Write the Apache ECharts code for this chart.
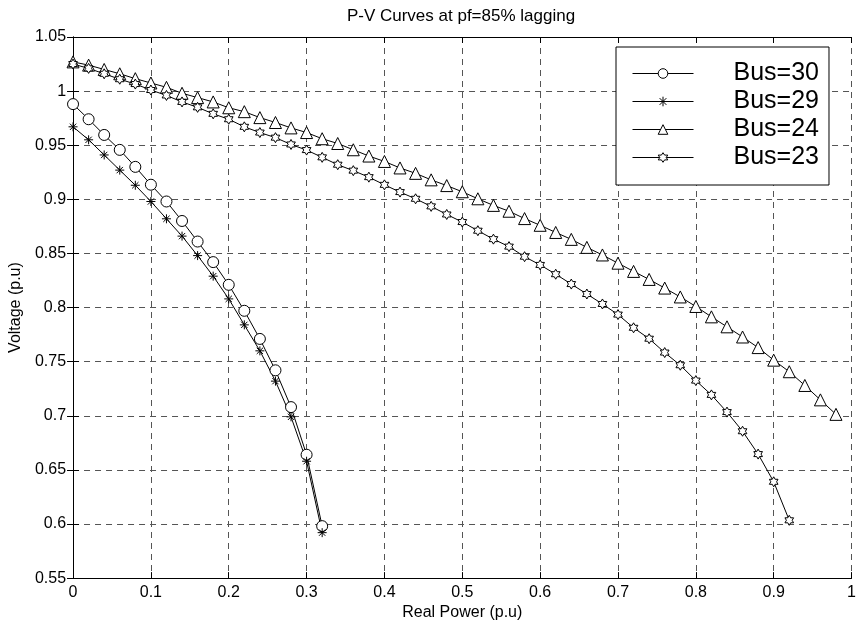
<!DOCTYPE html>
<html>
<head>
<meta charset="utf-8">
<script src="https://cdn.jsdelivr.net/npm/echarts@6/dist/echarts.min.js"></script>
<style>
  html, body { margin: 0; padding: 0; background: #fff; }
  #main { width: 859px; height: 626px; }
</style>
</head>
<body>
<div id="main"></div>
<script>
// real power (p.u) for each bus
var powerBus30 = [0, 0.02, 0.04, 0.06, 0.08, 0.10, 0.12, 0.14, 0.16, 0.18, 0.20, 0.22, 0.24, 0.26, 0.28, 0.30, 0.32];
var powerBus29 = [0, 0.02, 0.04, 0.06, 0.08, 0.10, 0.12, 0.14, 0.16, 0.18, 0.20, 0.22, 0.24, 0.26, 0.28, 0.30, 0.32];
var powerBus24 = [0, 0.02, 0.04, 0.06, 0.08, 0.10, 0.12, 0.14, 0.16, 0.18, 0.20, 0.22, 0.24, 0.26, 0.28, 0.30,
  0.32, 0.34, 0.36, 0.38, 0.40, 0.42, 0.44, 0.46, 0.48, 0.50, 0.52, 0.54, 0.56, 0.58, 0.60, 0.62, 0.64, 0.66,
  0.68, 0.70, 0.72, 0.74, 0.76, 0.78, 0.80, 0.82, 0.84, 0.86, 0.88, 0.90, 0.92, 0.94, 0.96, 0.98];
var powerBus23 = [0, 0.02, 0.04, 0.06, 0.08, 0.10, 0.12, 0.14, 0.16, 0.18, 0.20, 0.22, 0.24, 0.26, 0.28, 0.30,
  0.32, 0.34, 0.36, 0.38, 0.40, 0.42, 0.44, 0.46, 0.48, 0.50, 0.52, 0.54, 0.56, 0.58, 0.60, 0.62, 0.64, 0.66,
  0.68, 0.70, 0.72, 0.74, 0.76, 0.78, 0.80, 0.82, 0.84, 0.86, 0.88, 0.90, 0.92];

// voltage (p.u)
var voltBus30 = [0.988, 0.974, 0.9595, 0.9457, 0.930, 0.9135, 0.898, 0.880, 0.861, 0.842, 0.821, 0.797, 0.771,
  0.742, 0.708, 0.664, 0.598];
var voltBus29 = [0.967, 0.955, 0.941, 0.927, 0.913, 0.898, 0.882, 0.866, 0.848, 0.829, 0.808, 0.784, 0.760,
  0.732, 0.699, 0.658, 0.592];
var voltBus24 = [1.027, 1.024, 1.020, 1.016, 1.0115, 1.0075, 1.0035, 0.998, 0.994, 0.990, 0.9846, 0.981, 0.9755,
  0.971, 0.966, 0.9617, 0.956, 0.9516, 0.9458, 0.940, 0.935, 0.929, 0.924, 0.918, 0.9127, 0.907, 0.9005, 0.8944,
  0.889, 0.8822, 0.876, 0.8694, 0.863, 0.8556, 0.8486, 0.841, 0.8334, 0.826, 0.818, 0.8098, 0.801, 0.7914,
  0.7822, 0.7728, 0.763, 0.7514, 0.7407, 0.728, 0.7147, 0.7013];
var voltBus23 = [1.025, 1.021, 1.016, 1.011, 1.0065, 1.001, 0.996, 0.990, 0.985, 0.979, 0.974, 0.967, 0.9617,
  0.957, 0.9507, 0.9455, 0.9388, 0.932, 0.9265, 0.9205, 0.9134, 0.9067, 0.9005, 0.8935, 0.886, 0.879, 0.871,
  0.8632, 0.8563, 0.847, 0.8394, 0.8308, 0.8217, 0.8125, 0.8033, 0.7935, 0.7813, 0.7712, 0.7584, 0.7467,
  0.7325, 0.7193, 0.7034, 0.6857, 0.6646, 0.639, 0.6034];

var busNames = ['Bus=30', 'Bus=29', 'Bus=24', 'Bus=23'];

var FONT = '"Liberation Sans", Arial, sans-serif';
var asteriskPath = 'path://M50 0L50 100M0 50L100 50M15 15L85 85M85 15L15 85';
var hexagramPath = 'path://M50 0L64.43 25L93.3 25L78.87 50L93.3 75L64.43 75L50 100L35.57 75L6.7 75L21.13 50L6.7 25L35.57 25Z';

function pairs(xs, ys) {
    var out = [];
    for (var i = 0; i < xs.length; i++) out.push([xs[i], ys[i]]);
    return out;
}

function makeSeries(name, data, symbol, size) {
    return {
        name: name,
        type: 'line',
        data: data,
        symbol: symbol,
        symbolSize: size,
        symbolKeepAspect: true,
        showAllSymbol: true,
        lineStyle: { color: '#000', width: 1 },
        itemStyle: { color: '#fff', borderColor: '#000', borderWidth: 1 },
        emphasis: { disabled: true },
        z: 3
    };
}

var myChart = echarts.init(document.getElementById('main'));
var option = {
    animation: false,
    backgroundColor: '#fff',
    title: {
        text: 'P-V Curves at pf=85% lagging',
        left: 461,
        top: 8,
        padding: 0,
        textAlign: 'center',
        textStyle: { fontFamily: FONT, fontSize: 17, fontWeight: 'normal', color: '#000' }
    },
    grid: { left: 70, right: 6, top: 37, bottom: 44 },
    legend: {
        data: busNames,
        orient: 'vertical',
        left: 616,
        top: 47,
        padding: [14, 10, 15, 16],
        itemGap: 3,
        itemWidth: 61,
        itemHeight: 12,
        backgroundColor: '#fff',
        borderColor: '#000',
        borderWidth: 1,
        lineStyle: { width: 1, color: '#000' },
        itemStyle: { color: '#fff', borderColor: '#000', borderWidth: 1 },
        textStyle: { fontFamily: FONT, fontSize: 25, color: '#000', lineHeight: 24.5, padding: [0, 0, 0, 35] }
    },
    xAxis: [{
        type: 'value',
        min: 0,
        max: 1,
        interval: 0.1,
        name: 'Real Power (p.u)',
        nameLocation: 'middle',
        nameGap: 20,
        nameTextStyle: { fontFamily: FONT, fontSize: 16, color: '#000' },
        axisLine: { lineStyle: { color: '#000', width: 1 } },
        axisTick: { inside: true, length: 6, lineStyle: { color: '#000' } },
        axisLabel: { fontFamily: FONT, fontSize: 16, color: '#000', margin: 6 },
        splitLine: { show: true, lineStyle: { color: '#555', type: [6, 5], width: 1 } }
    }, {
        type: 'value',
        position: 'top',
        min: 0,
        max: 1,
        interval: 0.1,
        axisLine: { lineStyle: { color: '#000', width: 1 } },
        axisTick: { inside: true, length: 6, lineStyle: { color: '#000' } },
        axisLabel: { show: false },
        splitLine: { show: false }
    }],
    yAxis: [{
        type: 'value',
        min: 0.55,
        max: 1.05,
        interval: 0.05,
        name: 'Voltage (p.u)',
        nameLocation: 'middle',
        nameGap: 46,
        nameTextStyle: { fontFamily: FONT, fontSize: 16, color: '#000' },
        axisLine: { show: true, lineStyle: { color: '#000', width: 1 } },
        axisTick: { show: true, inside: true, length: 6, lineStyle: { color: '#000' } },
        axisLabel: { fontFamily: FONT, fontSize: 16, color: '#000', margin: 7 },
        splitLine: { show: true, lineStyle: { color: '#555', type: [6, 5], width: 1 } }
    }, {
        type: 'value',
        position: 'right',
        min: 0.55,
        max: 1.05,
        interval: 0.05,
        axisLine: { show: true, lineStyle: { color: '#000', width: 1 } },
        axisTick: { show: true, inside: true, length: 6, lineStyle: { color: '#000' } },
        axisLabel: { show: false },
        splitLine: { show: false }
    }],
    series: [
        makeSeries(busNames[0], pairs(powerBus30, voltBus30), 'circle', 11),
        makeSeries(busNames[1], pairs(powerBus29, voltBus29), asteriskPath, 9),
        makeSeries(busNames[2], pairs(powerBus24, voltBus24), 'triangle', 12),
        makeSeries(busNames[3], pairs(powerBus23, voltBus23), hexagramPath, 10)
    ]
};

option && myChart.setOption(option);
</script>
</body>
</html>
